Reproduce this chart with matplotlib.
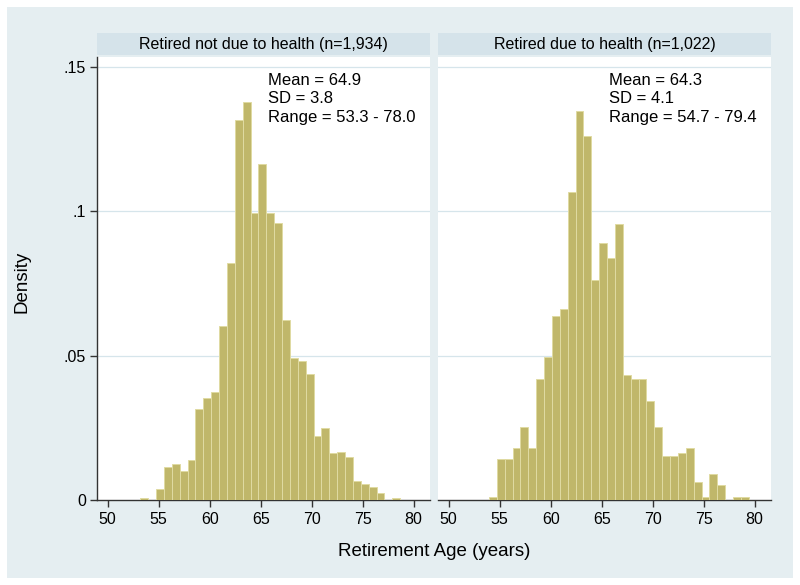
import matplotlib
matplotlib.use("Agg")
import matplotlib.pyplot as plt
from matplotlib.patches import Rectangle
import numpy as np

plt.rcParams['font.family'] = ['Liberation Sans', 'DejaVu Sans']

# Histogram bins (years) - 33 bins of equal width per group
bin_width = 0.772
left_start = 53.2
right_start = 53.95

# Density per bin
left_density = [0.0006, 0.0, 0.0038, 0.0113, 0.0125, 0.0100, 0.0139, 0.0315,
                0.0354, 0.0375, 0.0604, 0.0820, 0.1316, 0.1378, 0.0995, 0.1163,
                0.0995, 0.0961, 0.0624, 0.0491, 0.0483, 0.0436, 0.0222, 0.0248,
                0.0162, 0.0167, 0.0148, 0.0066, 0.0054, 0.0046, 0.0025, 0.0,
                0.0006]
right_density = [0.0012, 0.0141, 0.0141, 0.0179, 0.0254, 0.0179, 0.0419, 0.0497,
                 0.0637, 0.0662, 0.1068, 0.1349, 0.1261, 0.0762, 0.0891, 0.0839,
                 0.0955, 0.0433, 0.0418, 0.0418, 0.0344, 0.0254, 0.0152, 0.0152,
                 0.0164, 0.0179, 0.0064, 0.0012, 0.0090, 0.0052, 0.0,
                 0.0012, 0.0012]

titles = ["Retired not due to health (n=1,934)", "Retired due to health (n=1,022)"]
stats = ["Mean = 64.9\nSD = 3.8\nRange = 53.3 - 78.0",
         "Mean = 64.3\nSD = 4.1\nRange = 54.7 - 79.4"]

x_ticks = [50, 55, 60, 65, 70, 75, 80]
y_ticks = [0, 0.05, 0.1, 0.15]
y_tick_labels = ["0", ".05", ".1", ".15"]

bg = '#e5eef1'
strip = '#d5e3ea'
grid = '#d6e5eb'
bar_fill = '#c0b76a'
bar_edge = '#e0dba2'

fig = plt.figure(figsize=(8, 5.85), dpi=100)
fig.patch.set_facecolor('white')
fig.patches.append(Rectangle((7 / 800, 7 / 585), 786 / 800, 571 / 585,
                             transform=fig.transFigure, facecolor=bg,
                             edgecolor='none', zorder=-10))

ax_w = 333 / 800
ax_b = 1 - 500 / 585
ax_h = 443 / 585
lefts = [97 / 800, 438 / 800]

for i, (start, dens) in enumerate([(left_start, left_density), (right_start, right_density)]):
    ax = fig.add_axes([lefts[i], ax_b, ax_w, ax_h])
    ax.set_facecolor('white')
    edges = start + bin_width * np.arange(len(dens))
    ax.bar(edges, dens, width=bin_width, align='edge', color=bar_fill,
           edgecolor=bar_edge, linewidth=0.7, zorder=3)
    ax.set_xlim(48.95, 81.6)
    ax.set_ylim(0, 0.1535)
    ax.set_xticks(x_ticks)
    ax.set_xticklabels([str(t) for t in x_ticks], fontsize=11.5)
    ax.set_yticks(y_ticks)
    for y in y_ticks[1:]:
        ax.axhline(y, color=grid, linewidth=0.9, zorder=1)
    for s in ['top', 'right']:
        ax.spines[s].set_visible(False)
    ax.spines['bottom'].set_color('#333333')
    ax.spines['bottom'].set_linewidth(1.0)
    ax.tick_params(axis='x', length=5, width=1.0, color='#333333', pad=4)
    if i == 0:
        ax.spines['left'].set_color('#333333')
        ax.spines['left'].set_linewidth(1.0)
        ax.set_yticklabels(y_tick_labels, fontsize=11.5)
        ax.tick_params(axis='y', length=5, width=1.0, color='#333333', pad=3)
    else:
        ax.spines['left'].set_visible(False)
        ax.tick_params(axis='y', length=0, labelleft=False)
    ax.text(65.7, 0.965, stats[i], transform=ax.get_xaxis_transform(),
            ha='left', va='top', fontsize=12, linespacing=1.33, zorder=5)

    # header strip above each panel
    hb = 1 - 55 / 585
    hh = 22 / 585
    fig.patches.append(Rectangle((lefts[i], hb), ax_w, hh, transform=fig.transFigure,
                                 facecolor=strip, edgecolor='none', zorder=-5))
    fig.text(lefts[i] + ax_w / 2, hb + hh / 2, titles[i], ha='center', va='center',
             fontsize=11.5)

fig.text(22 / 800, 1 - 282 / 585, "Density", rotation=90, ha='center', va='center',
         fontsize=13.5)
fig.text(434 / 800, 1 - 552 / 585, "Retirement Age (years)", ha='center', va='center',
         fontsize=13.5)

fig.savefig("out.png", dpi=100, facecolor=fig.get_facecolor())
